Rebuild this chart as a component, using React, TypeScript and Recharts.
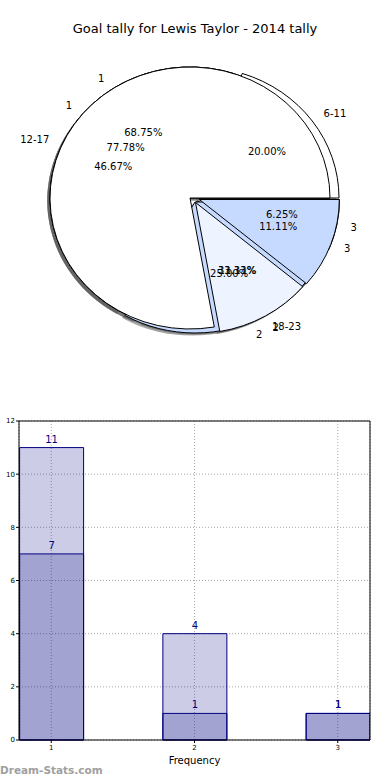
import React from 'react';
import { PieChart, Pie, Cell, BarChart, Bar, XAxis, YAxis, CartesianGrid, LabelList, ReferenceLine } from 'recharts';

// ---------- data ----------
const chartTitle = 'Goal tally for Lewis Taylor - 2014 tally';
const watermark = 'Dream-Stats.com';
const xAxisTitle = 'Frequency';

const freqLabels = ['1', '2', '3'];
const tallyA = [11, 4, 1];
const tallyB = [7, 1, 1];
const ageLabels = ['6-11', '12-17', '18-23'];
const ageTally = [3, 7, 5];

const barCategories = [1, 2, 3];
const yTicks = [0, 2, 4, 6, 8, 10, 12];

// ---------- style ----------
const FONT = '"DejaVu Sans", Verdana, sans-serif';
const sliceColors = ['#ffffff', '#edf3ff', '#c6daff'];
// per-slice "explode" displacement in pixels (dx, dy)
const explodeA: [number, number][] = [[0, 0], [7, 3], [9.5, 1.5]];
const explodeB: [number, number][] = [[0, 0], [5.5, 4.5], [9.3, 1.5]];
const explodeC: [number, number][] = [[9, 0], [0, 0], [5, 4]];
const CX = 190;
const CY = 198;
const RX = 140;
const RY = 131;
const SHADOW_DX = -2.8;
const SHADOW_DY = 2.6;
const RAD = Math.PI / 180;

const pieA = freqLabels.map((name, i) => ({ name, value: tallyA[i] }));
const pieB = freqLabels.map((name, i) => ({ name, value: tallyB[i] }));
const pieC = ageLabels.map((name, i) => ({ name, value: ageTally[i] }));
const barData = barCategories.map((f, i) => ({ freq: f, light: tallyA[i], dark: tallyB[i] }));

function wedgePath(cx: number, cy: number, rx: number, ry: number, a0: number, a1: number) {
  const x0 = cx + rx * Math.cos(a0 * RAD);
  const y0 = cy - ry * Math.sin(a0 * RAD);
  const x1 = cx + rx * Math.cos(a1 * RAD);
  const y1 = cy - ry * Math.sin(a1 * RAD);
  const large = Math.abs(a1 - a0) > 180 ? 1 : 0;
  return `M${cx},${cy} L${x0},${y0} A${rx},${ry} 0 ${large} 0 ${x1},${y1} Z`;
}

const makeShape = (labels: string[], explode: [number, number][], shadow: boolean) => (p: any) => {
  const i = labels.indexOf(p.name);
  const [ex, ey] = explode[i] ?? [0, 0];
  const rx = p.outerRadius;
  const ry = (p.outerRadius * RY) / RX;
  let cx = p.cx + ex;
  let cy = p.cy + ey;
  if (shadow) {
    cx += SHADOW_DX;
    cy += SHADOW_DY;
  }
  const d = wedgePath(cx, cy, rx, ry, p.startAngle, p.endAngle);
  if (shadow) return <path d={d} fill="#4d4d4d" fillOpacity={0.5} stroke="none" />;
  return <path d={d} fill={sliceColors[i]} stroke="#000" strokeWidth={1} strokeLinejoin="round" />;
};

const makeLabel = (labels: string[], explode: [number, number][]) => (p: any) => {
  const i = labels.indexOf(p.name);
  const [ex, ey] = explode[i] ?? [0, 0];
  const m = p.midAngle * RAD;
  const c = Math.cos(m);
  const s = Math.sin(m);
  const ox = p.cx + ex;
  const oy = p.cy + ey;
  const lx = ox + 1.1 * RX * c;
  const ly = oy - 1.1 * RY * s;
  const px = ox + 0.6 * RX * c;
  const py = oy - 0.6 * RY * s;
  return (
    <g>
      <text x={lx} y={ly} textAnchor={c >= 0 ? 'start' : 'end'} dominantBaseline="central" fontSize={10} fontFamily={FONT} fill="#000">
        {p.name}
      </text>
      <text x={px} y={py} textAnchor="middle" dominantBaseline="central" fontSize={10} fontFamily={FONT} fill="#000">
        {(p.percent * 100).toFixed(2)}%
      </text>
    </g>
  );
};

const pies = [
  { key: 'A', data: pieA, labels: freqLabels, explode: explodeA },
  { key: 'C', data: pieC, labels: ageLabels, explode: explodeC },
  { key: 'B', data: pieB, labels: freqLabels, explode: explodeB },
];

export default function App() {
  return (
    <div style={{ position: 'absolute', left: 0, top: 0, width: 390, height: 780, background: '#fff', overflow: 'hidden' }}>
      <div style={{ position: 'absolute', left: 0, top: 21, width: 390, textAlign: 'center', fontFamily: FONT, fontSize: 13, color: '#000' }}>
        {chartTitle}
      </div>
      <div style={{ position: 'absolute', left: 0, top: 0 }}>
        <PieChart width={390} height={400} margin={{ top: 0, right: 0, bottom: 0, left: 0 }}>
          {pies.map((pc) => (
            <Pie
              key={'shadow' + pc.key}
              data={pc.data}
              dataKey="value"
              nameKey="name"
              cx={CX}
              cy={CY}
              outerRadius={RX}
              startAngle={0}
              endAngle={360}
              isAnimationActive={false}
              labelLine={false}
              shape={makeShape(pc.labels, pc.explode, true)}
              fill="#4d4d4d"
              fillOpacity={0.5}
              stroke="none"
            />
          ))}
          {pies.map((pc) => (
            <Pie
              key={'pie' + pc.key}
              data={pc.data}
              dataKey="value"
              nameKey="name"
              cx={CX}
              cy={CY}
              outerRadius={RX}
              startAngle={0}
              endAngle={360}
              isAnimationActive={false}
              labelLine={false}
              shape={makeShape(pc.labels, pc.explode, false)}
              stroke="#000"
            >
              {pc.data.map((d, i) => (
                <Cell key={d.name} fill={sliceColors[i]} />
              ))}
            </Pie>
          ))}
          {pies.map((pc) => (
            <Pie
              key={'label' + pc.key}
              data={pc.data}
              dataKey="value"
              nameKey="name"
              cx={CX}
              cy={CY}
              outerRadius={RX}
              startAngle={0}
              endAngle={360}
              isAnimationActive={false}
              labelLine={false}
              label={makeLabel(pc.labels, pc.explode)}
              shape={() => <g />}
              fill="none"
              stroke="none"
            />
          ))}
        </PieChart>
      </div>
      <div style={{ position: 'absolute', left: 0, top: 400 }}>
        <BarChart width={390} height={380} data={barData} margin={{ top: 21, right: 20, bottom: 14, left: 0 }}>
          <CartesianGrid stroke="#a8a8a8" strokeDasharray="1 2" />
          <XAxis
            xAxisId={0}
            dataKey="freq"
            type="number"
            domain={[0.775, 3.225]}
            ticks={barCategories}
            allowDataOverflow
            height={26}
            tickSize={3}
            tickMargin={2}
            stroke="#000"
            tick={{ fontSize: 7, fill: '#000', fontFamily: FONT }}
            label={{ value: xAxisTitle, position: 'insideBottom', offset: 2, fontSize: 10, fill: '#000', fontFamily: FONT }}
          />
          <XAxis xAxisId="b" dataKey="freq" type="number" domain={[0.775, 3.225]} ticks={barCategories} allowDataOverflow hide />
          <YAxis
            domain={[0, 12]}
            ticks={yTicks}
            width={19}
            tickSize={3}
            tickMargin={1}
            stroke="#000"
            tick={{ fontSize: 7, fill: '#000', fontFamily: FONT }}
          />
          <ReferenceLine y={12} stroke="#000" />
          <ReferenceLine x={3.225} stroke="#000" />
          <Bar xAxisId={0} dataKey="light" fill="#000080" fillOpacity={0.2} stroke="#000080" strokeWidth={1} barSize={64} isAnimationActive={false}>
            <LabelList dataKey="light" position="top" fill="#000080" fontSize={10} fontFamily={FONT} />
          </Bar>
          <Bar xAxisId="b" dataKey="dark" fill="#000080" fillOpacity={0.2} stroke="#000080" strokeWidth={1} barSize={64} isAnimationActive={false}>
            <LabelList dataKey="dark" position="top" fill="#000080" fontSize={10} fontFamily={FONT} />
          </Bar>
        </BarChart>
      </div>
      <div style={{ position: 'absolute', left: 0, top: 764, fontFamily: FONT, fontSize: 10.5, fontWeight: 'bold', color: '#a0a0a0' }}>
        {watermark}
      </div>
    </div>
  );
}
